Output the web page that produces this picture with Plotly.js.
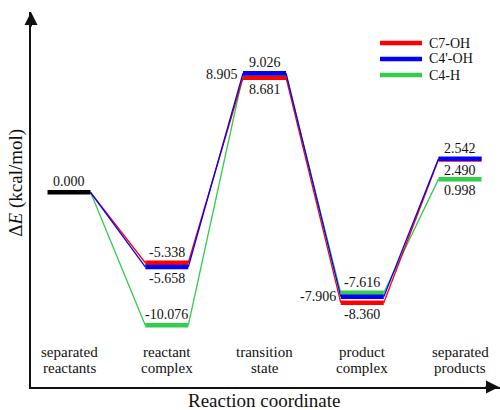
<!DOCTYPE html>
<html>
<head>
<meta charset="utf-8">
<script src="https://cdn.plot.ly/plotly-3.0.1.min.js"></script>
<style>html,body{margin:0;padding:0;background:#fff;}#chart{width:500px;height:410px;}</style>
</head>
<body>
<div id="chart"></div>
<script>
// ---- data ----
var categories = ['separated<br>reactants', 'reactant<br>complex', 'transition<br>state', 'product<br>complex', 'separated<br>products'];
var seriesNames = ['C7-OH', "C4'-OH", 'C4-H'];
var c7OH  = [0.000, -5.338, 8.681, -8.360, 2.490];
var c4pOH = [0.000, -5.658, 9.026, -7.906, 2.542];
var c4H   = [0.000, -10.076, 8.905, -7.616, 0.998];
var yTitle = 'Δ<i>E</i> (kcal/mol)';
var xTitle = 'Reaction coordinate';

// ---- styles ----
var colors = ['#ff0000', '#0000ff', '#33cc4d'];
var FONT = '"Liberation Serif"';
var halfW = 0.22;
var PL = 31, PT = 12, PW = 469, PH = 375;
function px2x(p) { return (p - PL) / PW; }
function px2y(p) { return (PT + PH - p) / PH; }
// label placement per series per category (null = no label)
var labelPos = [
  [null, 'above', 'below', 'below', 'below'],
  [null, 'below', 'above', 'left',  'above'],
  [null, 'above', 'left',  'above', 'below']
];
var series = [c7OH, c4pOH, c4H];
var drawOrder = [2, 0, 1];

var traces = [];
// connectors
drawOrder.forEach(function (s) {
  var vals = series[s], xs = [], ys = [];
  for (var i = 0; i < vals.length - 1; i++) {
    xs.push(i + halfW, i + 1 - halfW, null);
    ys.push(vals[i], vals[i + 1], null);
  }
  traces.push({x: xs, y: ys, mode: 'lines', line: {color: colors[s], width: 1.3}, showlegend: false, hoverinfo: 'skip'});
});
// level bars
drawOrder.forEach(function (s) {
  var vals = series[s], xs = [], ys = [];
  for (var i = 1; i < vals.length; i++) {
    xs.push(i - halfW, i + halfW, null);
    ys.push(vals[i], vals[i], null);
  }
  traces.push({x: xs, y: ys, mode: 'lines', name: seriesNames[s],
    line: {color: colors[s], width: 4.5}, showlegend: false, hoverinfo: 'skip'});
});
// common starting level
traces.push({x: [0 - halfW, 0 + halfW], y: [c7OH[0], c7OH[0]], mode: 'lines',
  line: {color: '#000', width: 4.5}, showlegend: false, hoverinfo: 'skip'});

var ann = [], shapes = [];
// value labels
series.forEach(function (vals, s) {
  vals.forEach(function (v, i) {
    var p = labelPos[s][i];
    if (!p) return;
    var a = {x: i, y: v, xref: 'x', yref: 'y', text: v.toFixed(3), showarrow: false,
      font: {family: FONT, size: 14, color: '#111'}};
    if (p === 'above') { a.yanchor = 'bottom'; a.yshift = 1; }
    else if (p === 'below') { a.yanchor = 'top'; a.yshift = -2; }
    else { a.x = i - halfW; a.xanchor = 'right'; a.xshift = -3; a.yanchor = 'middle'; }
    ann.push(a);
  });
});
ann.push({x: 0, y: c7OH[0], xref: 'x', yref: 'y', text: c7OH[0].toFixed(3), showarrow: false,
  yanchor: 'bottom', yshift: 1, font: {family: FONT, size: 14, color: '#111'}});
// category labels
categories.forEach(function (c, i) {
  c.split('<br>').forEach(function (line, k) {
    ann.push({x: i, xref: 'x', y: 0, yref: 'paper', yanchor: 'middle', yshift: 35 - 16 * k,
      text: line, showarrow: false, font: {family: FONT, size: 15, color: '#111'}});
  });
});
// axis titles
ann.push({x: 0.5, xref: 'paper', xanchor: 'center', xshift: -2, y: 0, yref: 'paper', yshift: -13, yanchor: 'middle',
  text: xTitle, showarrow: false, font: {family: FONT, size: 19, color: '#111'}});
ann.push({x: 0, xref: 'paper', xanchor: 'center', xshift: -15, y: 0.545, yref: 'paper', yanchor: 'middle', textangle: -90,
  text: yTitle, showarrow: false, font: {family: FONT, size: 19, color: '#111'}});
// axis arrows
ann.push({x: 0, y: 1, xref: 'paper', yref: 'paper', ax: 0, ay: 16, text: '', showarrow: true,
  arrowhead: 2, arrowsize: 1.3, arrowwidth: 2, arrowcolor: '#111'});
ann.push({x: 1, y: 0, xref: 'paper', yref: 'paper', ax: -16, ay: 0, text: '', showarrow: true,
  arrowhead: 2, arrowsize: 1.3, arrowwidth: 2, arrowcolor: '#111'});
// legend (manual, for exact spacing)
seriesNames.forEach(function (n, s) {
  var yy = px2y(43 + 16 * s);
  shapes.push({type: 'line', xref: 'paper', yref: 'paper', x0: px2x(380), x1: px2x(422), y0: yy, y1: yy,
    line: {color: colors[s], width: 4.5}});
  ann.push({x: px2x(427), y: yy, xref: 'paper', yref: 'paper', xanchor: 'left', yanchor: 'middle',
    text: n, showarrow: false, font: {family: FONT, size: 14, color: '#111'}});
});

var layout = {
  width: 500, height: 410,
  font: {family: FONT},
  margin: {l: PL, r: 0, t: PT, b: 410 - PT - PH},
  paper_bgcolor: '#fff', plot_bgcolor: '#fff',
  xaxis: {range: [-0.389, 4.409], showgrid: false, zeroline: false, showticklabels: false,
    ticks: '', showline: true, linewidth: 2, linecolor: '#111'},
  yaxis: {range: [-14.75, 13.66], showgrid: false, zeroline: false, showticklabels: false,
    ticks: '', showline: true, linewidth: 2, linecolor: '#111'},
  showlegend: false,
  shapes: shapes,
  annotations: ann
};
Plotly.newPlot('chart', traces, layout, {staticPlot: true});
</script>
</body>
</html>
